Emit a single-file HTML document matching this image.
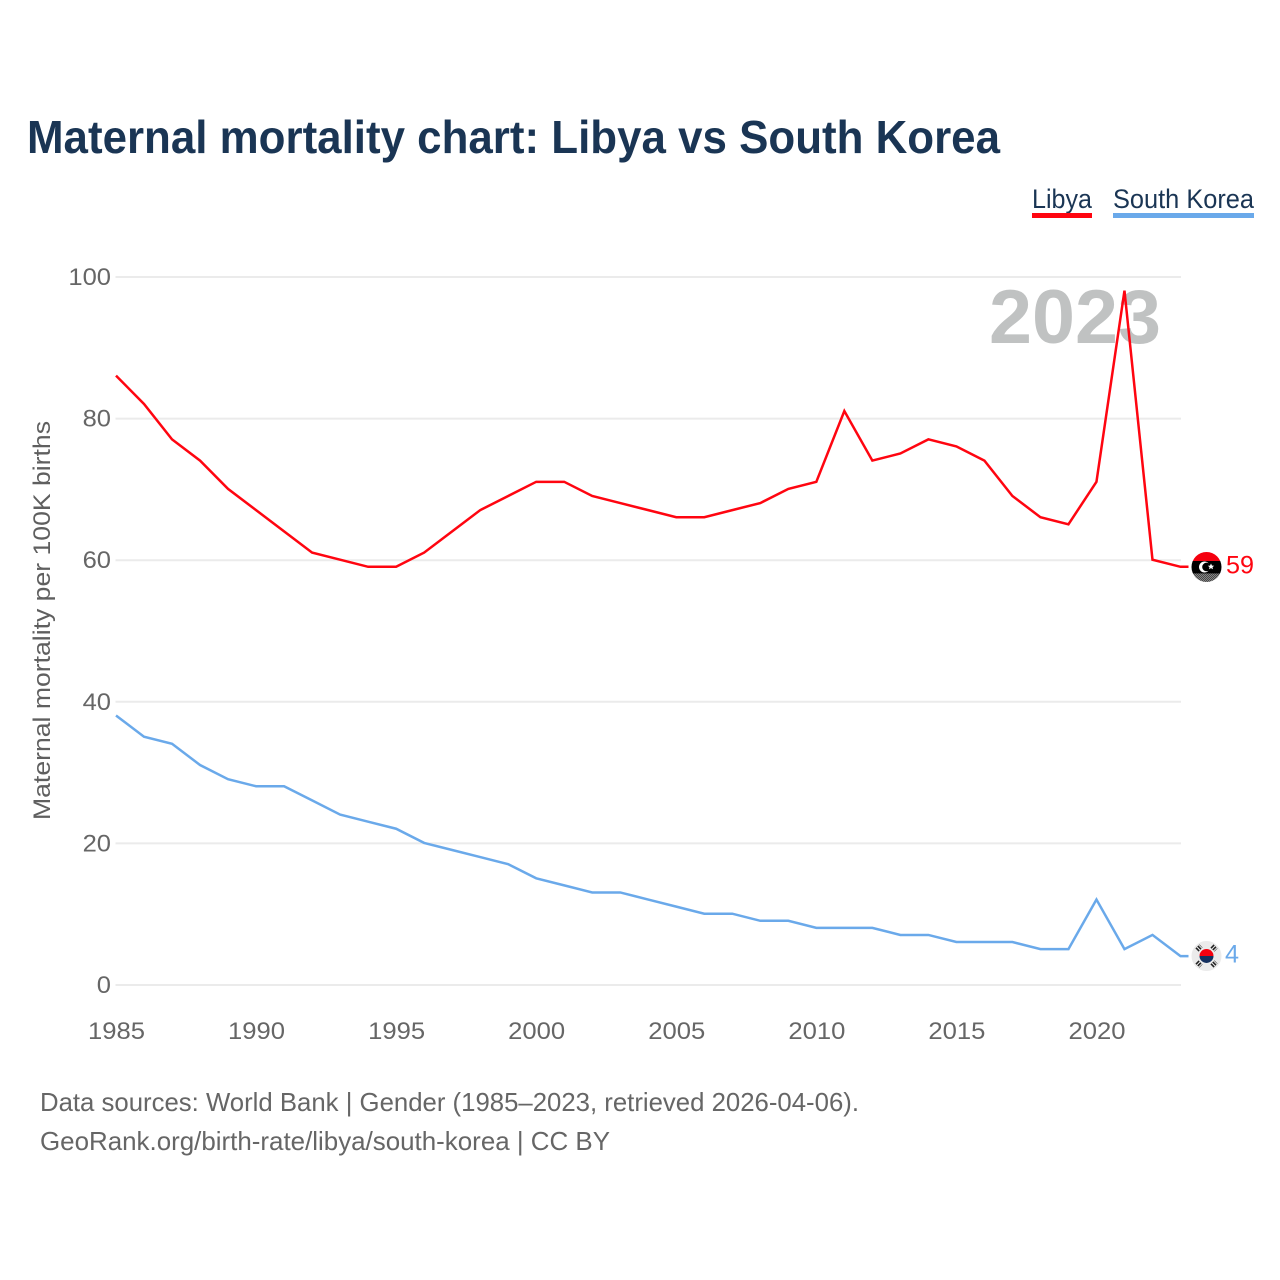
<!DOCTYPE html>
<html lang="en">
<head>
<meta charset="utf-8">
<title>Maternal mortality chart: Libya vs South Korea</title>
<style>
html,body{margin:0;padding:0;background:#fff;width:1280px;height:1280px;overflow:hidden}
svg{display:block}
text{font-family:"Liberation Sans",sans-serif}
</style>
</head>
<body>
<svg id="chart" width="1280" height="1280" viewBox="0 0 1280 1280" xmlns="http://www.w3.org/2000/svg">
  <defs>
    <clipPath id="flag-clip-ly"><circle cx="1206.5" cy="567" r="15"/></clipPath>
    <clipPath id="flag-clip-kr"><circle cx="1206.5" cy="956" r="15"/></clipPath>
    <pattern id="dither" width="2" height="2" patternUnits="userSpaceOnUse">
      <rect width="2" height="2" fill="#888"/>
      <rect width="1" height="1" fill="#444"/>
      <rect x="1" y="1" width="1" height="1" fill="#444"/>
    </pattern>
  </defs>
  <text x="27" y="153" font-size="46" font-weight="700" fill="#1a3554" textLength="973" lengthAdjust="spacingAndGlyphs">Maternal mortality chart: Libya vs South Korea</text>

  <g>
    <g>
      <text x="1032" y="208" font-size="27" fill="#1a3554" textLength="60" lengthAdjust="spacingAndGlyphs">Libya</text>
      <rect x="1032" y="213" width="60" height="5" fill="#ff0510"/>
    </g>
    <g>
      <text x="1113" y="208" font-size="27" fill="#1a3554" textLength="141" lengthAdjust="spacingAndGlyphs">South Korea</text>
      <rect x="1113" y="213" width="141" height="5" fill="#6aa9ea"/>
    </g>
  </g>

  <g id="grid"></g>
  <g id="yticks"></g>
  <g id="xticks"></g>
  <text transform="translate(50 820) rotate(-90)" x="0" y="0" font-size="24.5" fill="#5f5f5f" textLength="399" lengthAdjust="spacingAndGlyphs">Maternal mortality per 100K births</text>

  <text id="year-label" x="989" y="343" font-size="76" font-weight="700" fill="#c0c2c2" textLength="172" lengthAdjust="spacingAndGlyphs">2023</text>

  <g id="series" transform="translate(-0.5 -0.5)"></g>

  <g id="flag-ly">
    <g clip-path="url(#flag-clip-ly)">
      <rect x="1190" y="550" width="34" height="11" fill="#f5000f"/>
      <rect x="1190" y="561" width="34" height="12.5" fill="#000"/>
      <rect x="1190" y="573.5" width="34" height="10" fill="url(#dither)"/>
      <circle cx="1204.5" cy="567" r="5.5" fill="#fff"/>
      <circle cx="1206.5" cy="567" r="4.3" fill="#000"/>
      <polygon points="1211,563.5 1212,565.6 1214.2,565.8 1212.5,567.2 1213,569.3 1211,568.2 1209,569.3 1209.5,567.2 1207.8,565.8 1210,565.6" fill="#fff"/>
    </g>
  </g>
  <g id="flag-kr">
    <g clip-path="url(#flag-clip-kr)">
      <rect x="1190" y="940" width="34" height="32" fill="#ebebeb"/>
      <path d="M1199.5 956a7 7 0 0 1 14 0z" fill="#f5000f"/>
      <path d="M1199.5 956a7 7 0 0 0 14 0z" fill="#14305f"/>
      <g stroke="#222" stroke-width="4.5" stroke-dasharray="1.6 1">
        <line x1="1197" y1="950" x2="1201" y2="946"/>
        <line x1="1212" y1="946" x2="1216" y2="950"/>
        <line x1="1197" y1="962" x2="1201" y2="966"/>
        <line x1="1212" y1="966" x2="1216" y2="962"/>
      </g>
    </g>
  </g>

  <text id="value-ly" x="1226" y="573" font-size="25" fill="#ff0510" textLength="28" lengthAdjust="spacingAndGlyphs">59</text>
  <text id="value-kr" x="1225" y="963" font-size="25" fill="#6aa9ea" textLength="14" lengthAdjust="spacingAndGlyphs">4</text>

  <g>
    <text x="40" y="1111" font-size="26" fill="#666" textLength="819" lengthAdjust="spacingAndGlyphs">Data sources: World Bank | Gender (1985–2023, retrieved 2026-04-06).</text>
    <text x="40" y="1150" font-size="26" fill="#666" textLength="570" lengthAdjust="spacingAndGlyphs">GeoRank.org/birth-rate/libya/south-korea | CC BY</text>
  </g>
</svg>
<script>
const years = [1985,1986,1987,1988,1989,1990,1991,1992,1993,1994,1995,1996,1997,1998,1999,2000,2001,2002,2003,2004,2005,2006,2007,2008,2009,2010,2011,2012,2013,2014,2015,2016,2017,2018,2019,2020,2021,2022,2023];
const libyaValues = [86,82,77,74,70,67,64,61,60,59,59,61,64,67,69,71,71,69,68,67,66,66,67,68,70,71,81,74,75,77,76,74,69,66,65,71,98,60,59];
const southKoreaValues = [38,35,34,31,29,28,28,26,24,23,22,20,19,18,17,15,14,13,13,12,11,10,10,9,9,8,8,8,7,7,6,6,6,5,5,12,5,7,4];
const yTicks = [0,20,40,60,80,100];
const xTicks = [1985,1990,1995,2000,2005,2010,2015,2020];

const NS = 'http://www.w3.org/2000/svg';
const xScale = function (year) { return 116.5 + (year - 1985) * (1181 - 116.5) / (2023 - 1985); };
const yScale = function (value) { return 985 - value * (985 - 277) / 100; };
const lastYear = years[years.length - 1];

function make(tag) { return document.createElementNS(NS, tag); }

const gridGroup = document.getElementById('grid');
const yGroup = document.getElementById('yticks');
const xGroup = document.getElementById('xticks');
const seriesGroup = document.getElementById('series');

yTicks.forEach(function (tick) {
  const line = make('line');
  
  
  line.setAttribute('x1', 115.5);
  line.setAttribute('x2', 1181);
  line.setAttribute('y1', yScale(tick));
  line.setAttribute('y2', yScale(tick));
  line.setAttribute('stroke', '#ebebeb');
  line.setAttribute('stroke-width', 2);
  gridGroup.appendChild(line);

  const label = make('text');
  
  
  const str = String(tick);
  label.setAttribute('x', 111 - str.length * 14.2);
  label.setAttribute('y', yScale(tick) + 8);
  label.setAttribute('font-size', 24);
  label.setAttribute('fill', '#666');
  label.setAttribute('textLength', str.length * 14.2);
  label.setAttribute('lengthAdjust', 'spacingAndGlyphs');
  label.textContent = str;
  yGroup.appendChild(label);
});

xTicks.forEach(function (tick) {
  const label = make('text');
  
  
  label.setAttribute('x', xScale(tick) - 28.5);
  label.setAttribute('y', 1039);
  label.setAttribute('font-size', 24);
  label.setAttribute('fill', '#666');
  label.setAttribute('textLength', 57);
  label.setAttribute('lengthAdjust', 'spacingAndGlyphs');
  label.textContent = String(tick);
  xGroup.appendChild(label);
});

function pathFor(values) {
  return values.map(function (v, i) {
    return (i ? 'L' : 'M') + xScale(years[i]).toFixed(2) + ' ' + yScale(v).toFixed(2);
  }).join(' ');
}

const libyaLine = make('path');


libyaLine.setAttribute('d', pathFor(libyaValues) + ' h8');
libyaLine.setAttribute('fill', 'none');
libyaLine.setAttribute('stroke', '#ff0510');
libyaLine.setAttribute('stroke-width', 2.5);
libyaLine.setAttribute('stroke-linejoin', 'miter');
libyaLine.setAttribute('stroke-miterlimit', 4);
seriesGroup.appendChild(libyaLine);

const koreaLine = make('path');


koreaLine.setAttribute('d', pathFor(southKoreaValues) + ' h8');
koreaLine.setAttribute('fill', 'none');
koreaLine.setAttribute('stroke', '#6aa9ea');
koreaLine.setAttribute('stroke-width', 2.5);
koreaLine.setAttribute('stroke-linejoin', 'miter');
koreaLine.setAttribute('stroke-miterlimit', 4);
seriesGroup.appendChild(koreaLine);

const lastLibya = libyaValues[libyaValues.length - 1];
const lastKorea = southKoreaValues[southKoreaValues.length - 1];
document.getElementById('value-ly').textContent = String(lastLibya);
document.getElementById('value-kr').textContent = String(lastKorea);
document.getElementById('year-label').textContent = String(lastYear);
document.getElementById('value-ly').setAttribute('y', yScale(lastLibya) + 6);
document.getElementById('value-kr').setAttribute('y', yScale(lastKorea) + 6);
document.getElementById('flag-ly').setAttribute('transform', 'translate(0 ' + (yScale(lastLibya) - 567.3) + ')');
document.getElementById('flag-kr').setAttribute('transform', 'translate(0 ' + (yScale(lastKorea) - 956.7) + ')');
</script>
</body>
</html>
